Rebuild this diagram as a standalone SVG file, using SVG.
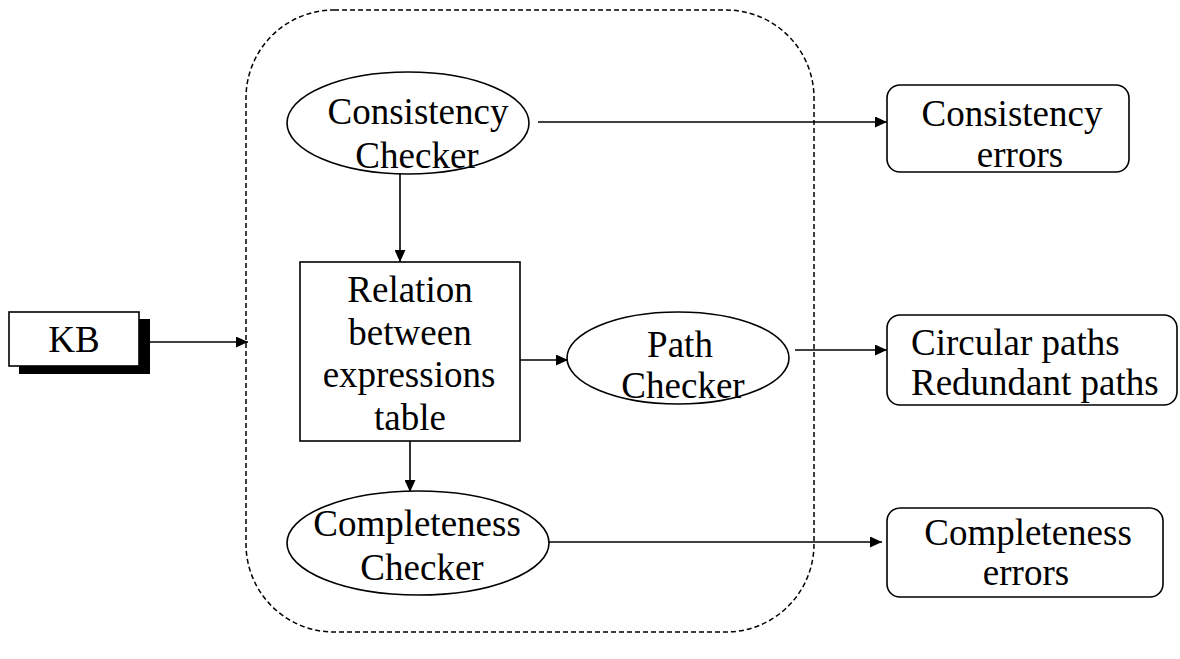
<svg xmlns="http://www.w3.org/2000/svg" width="1180" height="659" viewBox="0 0 1180 659">
<defs>
<marker id="ah" markerUnits="userSpaceOnUse" markerWidth="13" markerHeight="11" refX="12" refY="5.5" orient="auto">
<path d="M0,0 L12,5.5 L0,11 Z" fill="#000"/>
</marker>
<style>
text{font-family:'Liberation Serif','DejaVu Serif',serif;font-size:37px;fill:#000;text-anchor:middle}
.s{fill:#fff;stroke:#000;stroke-width:1.6}
.c{fill:none;stroke:#000;stroke-width:1.6;marker-end:url(#ah)}
</style>
</defs>
<rect width="1180" height="659" fill="#fff"/>
<g id="container">
<rect x="246" y="10" width="568" height="622" rx="88" ry="88" fill="none" stroke="#000" stroke-width="1.5" stroke-dasharray="5,3"/>
</g>
<g id="connectors">
<line class="c" x1="150" y1="342" x2="248" y2="342"/>
<line class="c" x1="538" y1="122" x2="887" y2="122"/>
<line class="c" x1="400" y1="172" x2="400" y2="262"/>
<line class="c" x1="512" y1="360" x2="568" y2="360"/>
<line class="c" x1="795" y1="350" x2="887" y2="350"/>
<line class="c" x1="410" y1="441" x2="410" y2="492"/>
<line class="c" x1="548" y1="542" x2="882" y2="542"/>
</g>
<g id="kb">
<rect x="19" y="319" width="131" height="55" fill="#000"/>
<rect class="s" x="9" y="312" width="130" height="54"/>
<text x="74" y="352">KB</text>
</g>
<g id="consistency-checker">
<ellipse class="s" cx="408" cy="123" rx="121" ry="51"/>
<text x="418" y="124">Consistency</text>
<text x="417" y="168">Checker</text>
</g>
<g id="relation-table">
<rect class="s" x="300" y="262" width="220" height="179"/>
<text x="410" y="302">Relation</text>
<text x="410" y="345">between</text>
<text x="409" y="387">expressions</text>
<text x="410" y="430">table</text>
</g>
<g id="path-checker">
<ellipse class="s" cx="678" cy="358" rx="111" ry="46"/>
<text x="680" y="357">Path</text>
<text x="683" y="398">Checker</text>
</g>
<g id="completeness-checker">
<ellipse class="s" cx="418" cy="543" rx="131" ry="52"/>
<text x="417" y="536">Completeness</text>
<text x="422" y="580">Checker</text>
</g>
<g id="consistency-errors">
<rect class="s" x="887" y="85" width="242" height="87" rx="13" ry="13"/>
<text x="1012" y="126">Consistency</text>
<text x="1020" y="167">errors</text>
</g>
<g id="path-errors">
<rect class="s" x="887" y="315" width="290" height="90" rx="13" ry="13"/>
<text x="911" y="355" style="text-anchor:start">Circular paths</text>
<text x="911" y="395" style="text-anchor:start">Redundant paths</text>
</g>
<g id="completeness-errors">
<rect class="s" x="887" y="508" width="276" height="89" rx="13" ry="13"/>
<text x="1028" y="545">Completeness</text>
<text x="1026" y="585">errors</text>
</g>
</svg>
